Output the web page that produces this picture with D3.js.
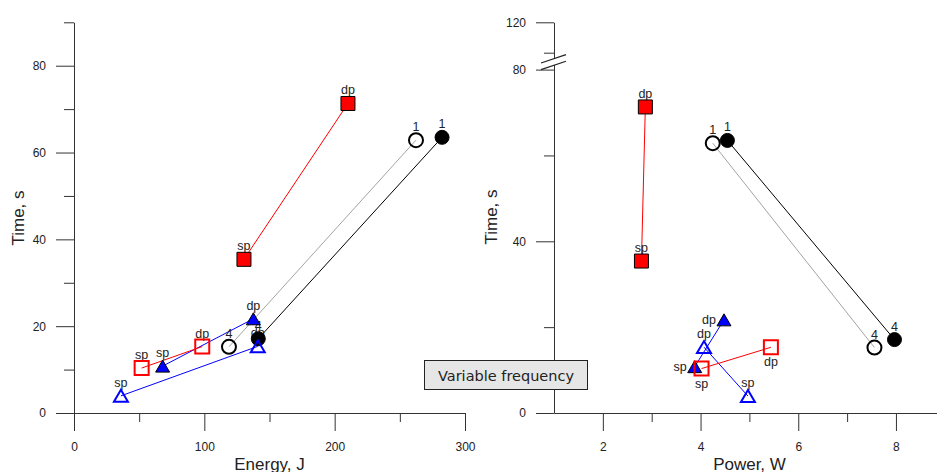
<!DOCTYPE html>
<html>
<head>
<meta charset="utf-8">
<script src="https://cdnjs.cloudflare.com/ajax/libs/d3/7.8.5/d3.min.js"></script>
<style>
body { margin: 0; background: #fff; }
svg { display: block; }
.tick text { font-family: "Liberation Sans", Arial, sans-serif; font-size: 12px; fill: #222; }
.tick line, .domain { stroke: #333; }
.axis-title { font-family: "Liberation Sans", Arial, sans-serif; font-size: 17px; fill: #222; }
.pt-label { font-family: "Liberation Sans", Arial, sans-serif; font-size: 12.5px; fill: #222; }
.note text { font-family: "DejaVu Sans", Verdana, sans-serif; font-size: 14.5px; fill: #222; }
</style>
</head>
<body>
<div id="chart"></div>
<script>
// values, each pair is [first point, second point]
var timeRedFilled    = [35.4, 71.3];
var timeRedOpen      = [10.35, 15.3];
var timeBlueFilled   = [10.8, 21.7];
var timeBlueOpen     = [3.95, 15.35];
var timeCircleOpen   = [15.25, 62.85];
var timeCircleFilled = [17.1, 63.5];

var energyRedFilled    = [130.4, 210.2];
var energyRedOpen      = [51.9, 98.4];
var energyBlueFilled   = [68, 137.6];
var energyBlueOpen     = [36, 141];
var energyCircleOpen   = [118.9, 262.4];
var energyCircleFilled = [141.4, 282.4];

var powerRedFilled    = [2.79, 2.87];
var powerRedOpen      = [4.02, 5.44];
var powerBlueFilled   = [3.88, 4.48];
var powerBlueOpen     = [4.97, 4.07];
var powerCircleOpen   = [7.56, 4.25];
var powerCircleFilled = [7.97, 4.55];

var labelsPhase  = ['sp', 'dp'];
var labelsCircle = ['4', '1'];

var energyMajor = [0, 100, 200, 300], energyMinor = [50, 150, 250];
var powerMajor  = [2, 4, 6, 8],       powerMinor  = [3, 5, 7];
var timeMajorL  = [0, 20, 40, 60, 80], timeMinorL = [10, 30, 50, 70, 90];
var timeMajorR  = [0, 40, 80, 120],    timeMinorR = [20, 60, 100];

var noteText = 'Variable frequency';

// series table built from the arrays above (draw order matters)
var series = [
    {energy: energyCircleOpen,   power: powerCircleOpen,   time: timeCircleOpen,   labels: labelsCircle,
     line: '#a3a3a3', shape: 'circle',   fill: 'none',    stroke: '#000', sw: 2, posR: 'above'},
    {energy: energyCircleFilled, power: powerCircleFilled, time: timeCircleFilled, labels: labelsCircle,
     line: '#000',    shape: 'circle',   fill: '#000',    stroke: '#000', sw: 1, posR: 'above'},
    {energy: energyBlueFilled,   power: powerBlueFilled,   time: timeBlueFilled,   labels: labelsPhase,
     line: '#0000ff', shape: 'triangle', fill: '#0000ff', stroke: '#000', sw: 1, posR: 'left'},
    {energy: energyBlueOpen,     power: powerBlueOpen,     time: timeBlueOpen,     labels: labelsPhase,
     line: '#0000ff', shape: 'triangle', fill: 'none',    stroke: '#0000ff', sw: 2, posR: 'above'},
    {energy: energyRedFilled,    power: powerRedFilled,    time: timeRedFilled,    labels: labelsPhase,
     line: '#ff0000', shape: 'square',   fill: '#ff0000', stroke: '#000', sw: 1, posR: 'above'},
    {energy: energyRedOpen,      power: powerRedOpen,      time: timeRedOpen,      labels: labelsPhase,
     line: '#ff0000', shape: 'square',   fill: 'none',    stroke: '#ff0000', sw: 2, posR: 'below'}
];

var svg = d3.select('#chart').append('svg')
    .attr('width', 937)
    .attr('height', 472);

// scales
var xE = d3.scaleLinear().domain([0, 300]).range([74, 465]);
var yL = d3.scaleLinear().domain([0, 90]).range([413, 22.3]);
var xP = d3.scaleLinear().domain([1, 9]).range([554, 944.8]);
// broken axis on the right: 80..100 squeezed
var yR = d3.scaleLinear().domain([0, 80, 100, 120]).range([413, 69.6, 52.7, 22.3]);

function drawAxes(x, y, xMajor, xMinor, yMajor, yMinor) {
    var xg = svg.append('g').attr('transform', 'translate(0,' + y(0) + ')');
    xg.append('g').call(d3.axisBottom(x).tickValues(xMinor).tickSize(9).tickFormat(''))
        .select('.domain').remove();
    xg.append('g').call(d3.axisBottom(x).tickValues(xMajor).tickSize(18).tickSizeOuter(0)
        .tickPadding(11).tickFormat(d3.format('d')));

    var yg = svg.append('g').attr('transform', 'translate(' + x.range()[0] + ',0)');
    yg.append('g').call(d3.axisLeft(y).tickValues(yMinor).tickSize(10).tickFormat(''))
        .select('.domain').remove();
    yg.append('g').call(d3.axisLeft(y).tickValues(yMajor).tickSize(18).tickSizeOuter(0)
        .tickPadding(10).tickFormat(d3.format('d')));
}

drawAxes(xE, yL, energyMajor, energyMinor, timeMajorL, timeMinorL);
drawAxes(xP, yR, powerMajor, powerMinor, timeMajorR, timeMinorR);

// axis break marks
var bx = xP(1), by = yR(90) + 1;
var brk = svg.append('g').attr('class', 'break');
brk.append('path')
    .attr('d', 'M' + (bx - 13) + ',' + (by + 7.5) + 'L' + (bx + 12) + ',' + (by - 1) +
               'L' + (bx + 12) + ',' + (by - 7.5) + 'L' + (bx - 13) + ',' + (by + 1) + 'Z')
    .attr('fill', '#fff');
[-3.3, 3.3].forEach(function(o) {
    brk.append('line')
        .attr('x1', bx - 13).attr('y1', by + o + 4.2)
        .attr('x2', bx + 12).attr('y2', by + o - 4.2)
        .attr('stroke', '#222').attr('stroke-width', 1.2);
});

// axis titles
svg.append('text').attr('class', 'axis-title')
    .attr('x', (xE.range()[0] + xE.range()[1]) / 2).attr('y', 469.5)
    .attr('text-anchor', 'middle').text('Energy, J');
svg.append('text').attr('class', 'axis-title')
    .attr('x', 749.5).attr('y', 469.5)
    .attr('text-anchor', 'middle').text('Power, W');
svg.append('text').attr('class', 'axis-title')
    .attr('transform', 'translate(24,218) rotate(-90)')
    .attr('text-anchor', 'middle').text('Time, s');
svg.append('text').attr('class', 'axis-title')
    .attr('transform', 'translate(497,217) rotate(-90)')
    .attr('text-anchor', 'middle').text('Time, s');

function markerPath(shape) {
    if (shape === 'triangle') return 'M0,-6L7,6L-7,6Z';
    if (shape === 'square') return 'M-7,-7H7V7H-7Z';
    return d3.symbol().type(d3.symbolCircle).size(Math.PI * 49)();
}

function drawPanel(xKey, x, y, posKey) {
    var g = svg.append('g');
    var line = d3.line()
        .x(function(d) { return x(d.v); })
        .y(function(d) { return y(d.t); });

    function pts(s) {
        return s[xKey].map(function(v, i) { return {v: v, t: s.time[i], label: s.labels[i]}; });
    }

    series.forEach(function(s) {
        g.append('path')
            .attr('d', line(pts(s)))
            .attr('fill', 'none')
            .attr('stroke', s.line)
            .attr('stroke-width', 1);
    });

    series.forEach(function(s) {
        var pos = posKey ? s[posKey] : 'above';
        g.selectAll(null).data(pts(s)).enter().append('text')
            .attr('class', 'pt-label')
            .attr('x', function(d) { return x(d.v) + (pos === 'left' ? -8 : 0); })
            .attr('y', function(d) {
                if (pos === 'below') return y(d.t) + 19;
                if (pos === 'left') return y(d.t) + 4;
                return y(d.t) - 9;
            })
            .attr('text-anchor', pos === 'left' ? 'end' : 'middle')
            .text(function(d) { return d.label; });
    });

    series.forEach(function(s) {
        g.selectAll(null).data(pts(s)).enter().append('path')
            .attr('d', markerPath(s.shape))
            .attr('transform', function(d) { return 'translate(' + x(d.v) + ',' + y(d.t) + ')'; })
            .attr('fill', s.fill)
            .attr('stroke', s.stroke)
            .attr('stroke-width', s.sw);
    });
}

drawPanel('energy', xE, yL, null);
drawPanel('power', xP, yR, 'posR');

// note box
var note = svg.append('g').attr('class', 'note');
note.append('rect')
    .attr('x', 424.5).attr('y', 360.5)
    .attr('width', 163).attr('height', 29)
    .attr('fill', '#e6e6e6').attr('stroke', '#222');
note.append('text')
    .attr('x', 506).attr('y', 380.5)
    .attr('text-anchor', 'middle')
    .text(noteText);
</script>
</body>
</html>
